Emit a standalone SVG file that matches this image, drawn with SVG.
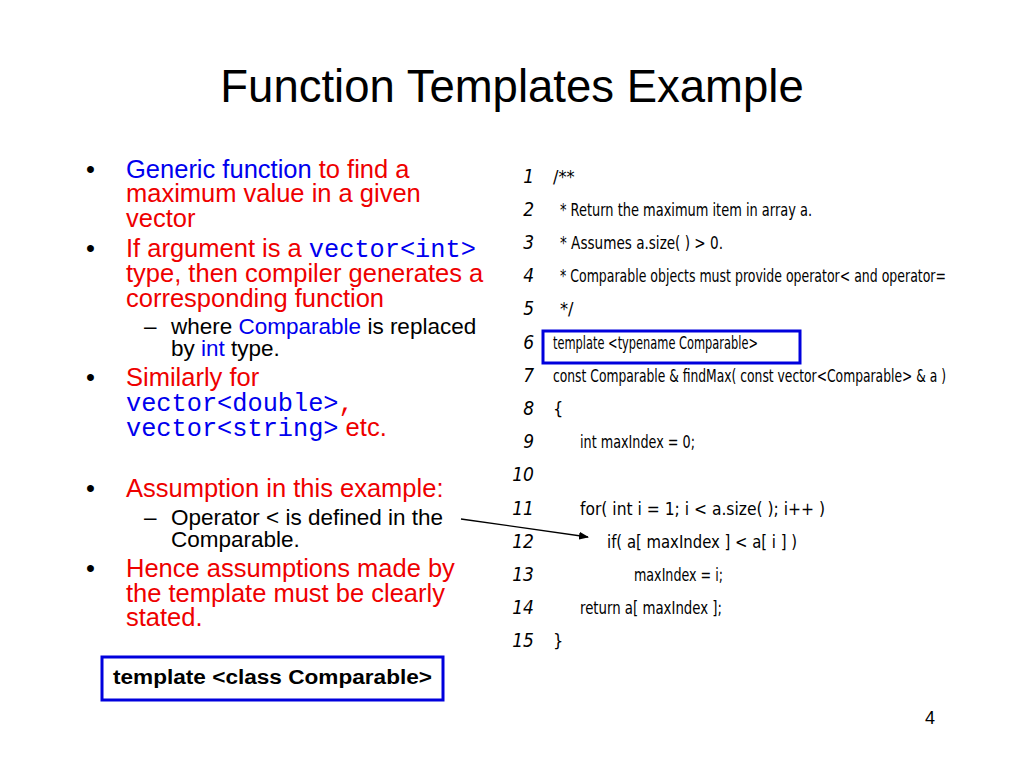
<svg xmlns="http://www.w3.org/2000/svg" width="1024" height="768" viewBox="0 0 1024 768">
<defs>
<style>
.t{font-family:"Liberation Sans",Arial,sans-serif;font-size:25.5px}
.s{font-family:"Liberation Sans",Arial,sans-serif;font-size:22.5px}
.m{font-family:"Liberation Mono","Courier New",monospace;font-size:25.3px}
.c{font-family:"DejaVu Sans Condensed","DejaVu Sans",sans-serif;font-stretch:condensed;font-size:18px;fill:#000}
.n{font-family:"DejaVu Sans Condensed","DejaVu Sans",sans-serif;font-style:italic;font-size:19px;text-anchor:end}
.b{fill:#0000ee}.r{fill:#ee0000}
</style>
<marker id="ah" markerWidth="10" markerHeight="8" refX="9" refY="4" orient="auto" markerUnits="userSpaceOnUse"><path d="M0,0 L10,4 L0,8 z" fill="#000"/></marker>
</defs>
<rect width="1024" height="768" fill="#fff"/>
<text x="512" y="102" text-anchor="middle" font-family="Liberation Sans,Arial,sans-serif" font-size="45.5">Function Templates Example</text>
<g id="bullets">
<text x="86" y="178" class="t">•</text>
<text x="126" y="178" class="t"><tspan class="b">Generic function</tspan><tspan class="r"> to find a</tspan></text>
<text x="126" y="202" class="t r">maximum value in a given</text>
<text x="126" y="227" class="t r">vector</text>
<text x="86" y="257" class="t">•</text>
<text x="126" y="257" class="t r">If argument is a <tspan class="m b">vector&lt;int&gt;</tspan></text>
<text x="126" y="282" class="t r">type, then compiler generates a</text>
<text x="126" y="307" class="t r">corresponding function</text>
<text x="144" y="334" class="s">–</text>
<text x="171" y="334" class="s">where <tspan class="b">Comparable</tspan> is replaced</text>
<text x="171" y="356" class="s">by <tspan class="b">int</tspan> type.</text>
<text x="86" y="386" class="t">•</text>
<text x="126" y="386" class="t r">Similarly for</text>
<text x="126" y="411" class="m b">vector&lt;double&gt;<tspan class="r">,</tspan></text>
<text x="126" y="436" class="t"><tspan class="m b">vector&lt;string&gt;</tspan><tspan class="r"> etc.</tspan></text>
<text x="86" y="497" class="t">•</text>
<text x="126" y="497" class="t r">Assumption in this example:</text>
<text x="144" y="525" class="s">–</text>
<text x="171" y="525" class="s">Operator &lt; is defined in the</text>
<text x="171" y="547" class="s">Comparable.</text>
<text x="86" y="577" class="t">•</text>
<text x="126" y="577" class="t r">Hence assumptions made by</text>
<text x="126" y="602" class="t r">the template must be clearly</text>
<text x="126" y="626" class="t r">stated.</text>
</g>
<g id="code">
<text x="534" y="183" class="n">1</text><text x="553" y="183" class="c">/**</text>
<text x="534" y="216" class="n">2</text><text x="560" y="216" class="c" textLength="252" lengthAdjust="spacingAndGlyphs">* Return the maximum item in array a.</text>
<text x="534" y="249" class="n">3</text><text x="560" y="249" class="c" textLength="163" lengthAdjust="spacingAndGlyphs">* Assumes a.size( ) &gt; 0.</text>
<text x="534" y="282" class="n">4</text><text x="560" y="282" class="c" textLength="386" lengthAdjust="spacingAndGlyphs">* Comparable objects must provide operator&lt; and operator=</text>
<text x="534" y="315" class="n">5</text><text x="560" y="315" class="c">*/</text>
<text x="534" y="349" class="n">6</text><text x="553" y="349" class="c" textLength="205" lengthAdjust="spacingAndGlyphs">template &lt;typename Comparable&gt;</text>
<text x="534" y="382" class="n">7</text><text x="553" y="382" class="c" textLength="393" lengthAdjust="spacingAndGlyphs">const Comparable &amp; findMax( const vector&lt;Comparable&gt; &amp; a )</text>
<text x="534" y="415" class="n">8</text><text x="553" y="415" class="c">{</text>
<text x="534" y="448" class="n">9</text><text x="580" y="448" class="c" textLength="115" lengthAdjust="spacingAndGlyphs">int maxIndex = 0;</text>
<text x="534" y="481" class="n">10</text>
<text x="534" y="515" class="n">11</text><text x="580" y="515" class="c" textLength="245" lengthAdjust="spacingAndGlyphs">for( int i = 1; i &lt; a.size( ); i++ )</text>
<text x="534" y="548" class="n">12</text><text x="607" y="548" class="c" textLength="190" lengthAdjust="spacingAndGlyphs">if( a[ maxIndex ] &lt; a[ i ] )</text>
<text x="534" y="581" class="n">13</text><text x="634" y="581" class="c" textLength="89" lengthAdjust="spacingAndGlyphs">maxIndex = i;</text>
<text x="534" y="614" class="n">14</text><text x="580" y="614" class="c" textLength="142" lengthAdjust="spacingAndGlyphs">return a[ maxIndex ];</text>
<text x="534" y="647" class="n">15</text><text x="553" y="647" class="c">}</text>
</g>
<g id="highlight"><rect x="543" y="331" width="257" height="32" fill="none" stroke="#0000dd" stroke-width="3"/></g>
<g id="classbox">
<rect x="102" y="657" width="341" height="43" fill="none" stroke="#0000dd" stroke-width="3"/>
<text x="113" y="684" font-family="Liberation Sans,Arial,sans-serif" font-size="20" font-weight="bold" textLength="319" lengthAdjust="spacingAndGlyphs">template &lt;class Comparable&gt;</text>
</g>
<g id="connectors"><line x1="461" y1="519" x2="588" y2="537" stroke="#000" stroke-width="1.3" marker-end="url(#ah)"/></g>
<text x="930" y="724" text-anchor="middle" font-family="Liberation Sans,Arial,sans-serif" font-size="18">4</text>
</svg>
